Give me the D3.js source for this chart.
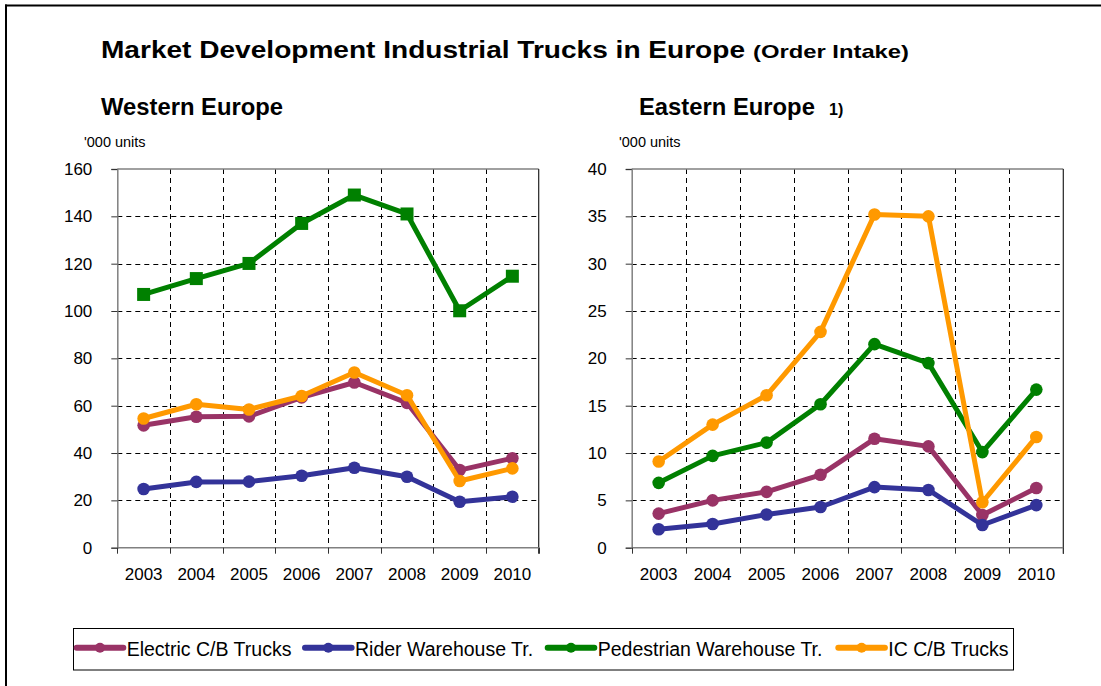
<!DOCTYPE html>
<html>
<head>
<meta charset="utf-8">
<script src="https://cdn.jsdelivr.net/npm/d3@7"></script>
<style>
  html, body { margin: 0; padding: 0; background: #fff; }
  svg { display: block; font-family: "Liberation Sans", Arial, sans-serif; }
</style>
</head>
<body>
<svg id="chart" width="1101" height="686"></svg>
<script>
// ---- Data ----
const years = ["2003", "2004", "2005", "2006", "2007", "2008", "2009", "2010"];
const seriesNames = ["Electric C/B Trucks", "Rider Warehouse Tr.", "Pedestrian Warehouse Tr.", "IC C/B Trucks"];
const seriesColors = ["#993366", "#333399", "#008000", "#FF9900"];

// Western Europe ('000 units)
const westElectric   = [51.7, 55.3, 55.5, 63.5, 69.8, 61.2, 32.8, 37.8];
const westRider      = [24.8, 27.8, 27.9, 30.4, 33.8, 30.0, 19.4, 21.5];
const westPedestrian = [107.0, 113.7, 120.1, 137.0, 149.0, 141.0, 100.1, 114.7];
const westIC         = [54.6, 60.6, 58.4, 64.1, 74.0, 64.4, 28.2, 33.5];

// Eastern Europe ('000 units)
const eastElectric   = [3.6, 5.0, 5.9, 7.7, 11.5, 10.7, 3.45, 6.3];
const eastRider      = [1.95, 2.5, 3.5, 4.3, 6.4, 6.1, 2.4, 4.5];
const eastPedestrian = [6.85, 9.7, 11.1, 15.15, 21.5, 19.5, 10.1, 16.7];
const eastIC         = [9.1, 13.0, 16.1, 22.8, 35.2, 35.0, 4.8, 11.7];

const westTicks = [0, 20, 40, 60, 80, 100, 120, 140, 160];
const eastTicks = [0, 5, 10, 15, 20, 25, 30, 35, 40];

const svg = d3.select("#chart");
const FONT = "'Liberation Sans', Arial, sans-serif";

// Outer frame (top and left edges)
svg.append("line").attr("x1", 5).attr("x2", 1101).attr("y1", 5.5).attr("y2", 5.5)
  .attr("stroke", "#000").attr("stroke-width", 2);
svg.append("line").attr("x1", 6).attr("x2", 6).attr("y1", 4.5).attr("y2", 686)
  .attr("stroke", "#000").attr("stroke-width", 2);

// Titles
svg.append("text").attr("x", 101).attr("y", 58)
  .attr("font-size", 24.5).attr("font-weight", "bold").attr("fill", "#000")
  .attr("textLength", 644).attr("lengthAdjust", "spacingAndGlyphs")
  .text("Market Development Industrial Trucks in Europe");
svg.append("text").attr("x", 753).attr("y", 58)
  .attr("font-size", 19).attr("font-weight", "bold").attr("fill", "#000")
  .attr("textLength", 156).attr("lengthAdjust", "spacingAndGlyphs")
  .text("(Order Intake)");

function drawPanel(cfg) {
  const g = svg.append("g");
  const x = d3.scaleBand().domain(years).range([cfg.x0, cfg.x1]).padding(0);
  const y = d3.scaleLinear().domain([0, cfg.max]).range([cfg.y1, cfg.y0]);

  // subtitle
  g.append("text").attr("x", cfg.titleX).attr("y", 115)
    .attr("font-size", 23.8).attr("font-weight", "bold").attr("fill", "#000")
    .text(cfg.title);
  if (cfg.note) {
    g.append("text").attr("x", cfg.noteX).attr("y", 115)
      .attr("font-size", 16).attr("font-weight", "bold").attr("fill", "#000")
      .text(cfg.note);
  }
  g.append("text").attr("x", cfg.unitX).attr("y", 147)
    .attr("font-size", 14.5).attr("fill", "#000").text("'000 units");

  // horizontal gridlines
  g.append("g").selectAll("line").data(cfg.ticks.filter(t => t > 0 && t < cfg.max)).join("line")
    .attr("x1", cfg.x0).attr("x2", cfg.x1)
    .attr("y1", d => Math.round(y(d)) + 0.5).attr("y2", d => Math.round(y(d)) + 0.5)
    .attr("stroke", "#000").attr("stroke-width", 1).attr("stroke-dasharray", "5,4");
  // vertical gridlines at band boundaries
  const bounds = years.slice(1).map(d => x(d));
  g.append("g").selectAll("line").data(bounds).join("line")
    .attr("x1", d => Math.round(d) + 0.5).attr("x2", d => Math.round(d) + 0.5)
    .attr("y1", cfg.y0).attr("y2", cfg.y1)
    .attr("stroke", "#000").attr("stroke-width", 1).attr("stroke-dasharray", "5,4");

  // frame top / right
  g.append("line").attr("x1", cfg.x0).attr("x2", cfg.x1).attr("y1", cfg.y0).attr("y2", cfg.y0)
    .attr("stroke", "#808080").attr("stroke-width", 1.5);
  g.append("line").attr("x1", cfg.x1).attr("x2", cfg.x1).attr("y1", cfg.y0).attr("y2", cfg.y1 + 6)
    .attr("stroke", "#222").attr("stroke-width", 1.2);

  // Y axis
  const yAxis = d3.axisLeft(y).tickValues(cfg.ticks).tickSize(6).tickPadding(19);
  const ya = g.append("g").attr("transform", `translate(${cfg.x0},0)`).call(yAxis);
  ya.select(".domain").attr("stroke", "#808080").attr("stroke-width", 1.5);
  ya.selectAll(".tick line").attr("stroke", "#333");
  ya.selectAll(".tick text").attr("font-size", 17).attr("font-family", FONT).attr("fill", "#000");

  // X axis: ticks at band boundaries, labels at band centres
  const xa = g.append("g").attr("transform", `translate(0,${cfg.y1})`);
  xa.append("line").attr("x1", cfg.x0).attr("x2", cfg.x1).attr("y1", 0).attr("y2", 0)
    .attr("stroke", "#808080").attr("stroke-width", 1.5);
  const allBounds = years.map(d => x(d)).concat([cfg.x1]);
  xa.selectAll("line.tk").data(allBounds).join("line").attr("class", "tk")
    .attr("x1", d => Math.round(d) + 0.5).attr("x2", d => Math.round(d) + 0.5)
    .attr("y1", 0).attr("y2", 6).attr("stroke", "#333");
  xa.selectAll("text").data(years).join("text")
    .attr("x", d => x(d) + x.bandwidth() / 2).attr("y", 32)
    .attr("text-anchor", "middle").attr("font-size", 17).attr("fill", "#000")
    .text(d => d);

  // Series
  const line = d3.line().x((d, i) => x(years[i]) + x.bandwidth() / 2).y(d => y(d));
  cfg.series.forEach((vals, si) => {
    const col = seriesColors[si];
    g.append("path").datum(vals).attr("d", line)
      .attr("fill", "none").attr("stroke", col).attr("stroke-width", 5)
      .attr("stroke-linejoin", "round");
    if (cfg.squareIndex === si) {
      g.append("g").selectAll("rect").data(vals).join("rect")
        .attr("x", (d, i) => x(years[i]) + x.bandwidth() / 2 - 6.5)
        .attr("y", d => y(d) - 6.5)
        .attr("width", 13).attr("height", 13).attr("fill", col);
    } else {
      g.append("g").selectAll("circle").data(vals).join("circle")
        .attr("cx", (d, i) => x(years[i]) + x.bandwidth() / 2)
        .attr("cy", d => y(d)).attr("r", 6.3).attr("fill", col);
    }
  });
}

drawPanel({
  x0: 117.3, x1: 538.7, y0: 169, y1: 547.7, max: 160, ticks: westTicks,
  title: "Western Europe", titleX: 101, unitX: 84,
  series: [westElectric, westRider, westPedestrian, westIC], squareIndex: 2
});
drawPanel({
  x0: 631.7, x1: 1063.3, y0: 169, y1: 547.7, max: 40, ticks: eastTicks,
  title: "Eastern Europe", titleX: 639, note: "1)", noteX: 829, unitX: 619,
  series: [eastElectric, eastRider, eastPedestrian, eastIC], squareIndex: -1
});

// Legend
const lg = svg.append("g");
lg.append("rect").attr("x", 73.5).attr("y", 628.5).attr("width", 940).attr("height", 41.5)
  .attr("fill", "#fff").attr("stroke", "#000").attr("stroke-width", 1);
const legendStarts = [76.7, 305, 547.7, 838.3];
seriesNames.forEach((name, i) => {
  const sx = legendStarts[i];
  const ly = 647.7;
  lg.append("line").attr("x1", sx).attr("x2", sx + 46.6).attr("y1", ly).attr("y2", ly)
    .attr("stroke", seriesColors[i]).attr("stroke-width", 6).attr("stroke-linecap", "round");
  lg.append("circle").attr("cx", sx + 23.3).attr("cy", ly).attr("r", 5).attr("fill", seriesColors[i]);
  lg.append("text").attr("x", sx + 50).attr("y", 655.5)
    .attr("font-size", 19.5).attr("fill", "#000").text(name);
});
</script>
</body>
</html>
